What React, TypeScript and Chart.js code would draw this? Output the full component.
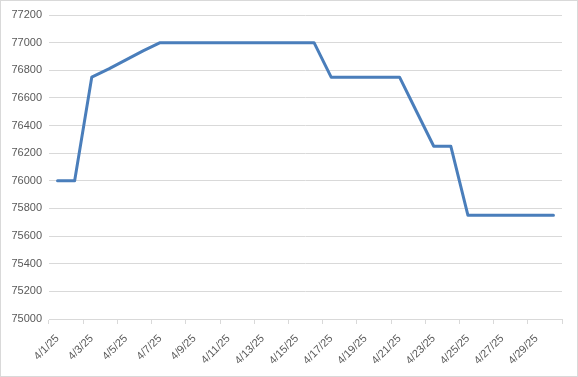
import React, { useEffect, useRef } from "react";
import { Chart, registerables } from "chart.js";

Chart.register(...registerables);

const dates: string[] = [
  "4/1/25", "4/2/25", "4/3/25", "4/4/25", "4/5/25", "4/6/25", "4/7/25", "4/8/25", "4/9/25", "4/10/25",
  "4/11/25", "4/12/25", "4/13/25", "4/14/25", "4/15/25", "4/16/25", "4/17/25", "4/18/25", "4/19/25", "4/20/25",
  "4/21/25", "4/22/25", "4/23/25", "4/24/25", "4/25/25", "4/26/25", "4/27/25", "4/28/25", "4/29/25", "4/30/25",
];

const values: number[] = [
  76000, 76000, 76750, 76810, 76875, 76940, 77000, 77000, 77000, 77000,
  77000, 77000, 77000, 77000, 77000, 77000, 76750, 76750, 76750, 76750,
  76750, 76500, 76250, 76250, 75750, 75750, 75750, 75750, 75750, 75750,
];

const yMin = 75000;
const yMax = 77200;
const yStep = 200;

const FONT = "'Liberation Sans', Arial, sans-serif";
const TEXT = "#595959";
const GRID = "#d9d9d9";

export default function App() {
  const ref = useRef<HTMLCanvasElement | null>(null);

  useEffect(() => {
    document.body.style.margin = "0";
    const ctx = ref.current;
    if (!ctx) return;
    const chart = new Chart(ctx, {
      type: "line",
      data: {
        labels: dates,
        datasets: [
          {
            data: values,
            borderColor: "#4a7ebb",
            borderWidth: 3,
            pointRadius: 0,
            tension: 0,
            borderJoinStyle: "round",
            borderCapStyle: "round",
            fill: false,
          },
        ],
      },
      options: {
        animation: false,
        responsive: false,
        maintainAspectRatio: false,
        plugins: { legend: { display: false }, tooltip: { enabled: false } },
        layout: { padding: { top: 14, right: 15, left: 0, bottom: 0 } },
        scales: {
          x: {
            offset: true,
            grid: {
              offset: true,
              drawOnChartArea: false,
              drawTicks: true,
              tickLength: 5,
              color: (c: any) =>
                c.index === undefined || c.index % 2 === 0 ? GRID : "rgba(0,0,0,0)",
            },
            border: { display: true, color: GRID, width: 1 },
            ticks: {
              autoSkip: false,
              maxRotation: 45,
              minRotation: 45,
              color: TEXT,
              font: { family: FONT, size: 11 },
              padding: 8,
              callback: (_v: any, i: number) => (i % 2 === 0 ? dates[i] : ""),
            },
            afterFit: (s: any) => {
              s.height = 57;
            },
          },
          y: {
            min: yMin,
            max: yMax,
            grid: { color: GRID, drawTicks: false, lineWidth: 1 },
            border: { display: false },
            ticks: {
              stepSize: yStep,
              color: TEXT,
              font: { family: FONT, size: 11 },
              padding: 7,
              callback: (v: any) => String(v),
            },
            afterFit: (s: any) => {
              s.width = 48;
            },
          },
        },
      },
    });
    return () => chart.destroy();
  }, []);

  return (
    <div
      style={{
        position: "absolute",
        left: 0,
        top: 0,
        width: 578,
        height: 377,
        border: "1px solid #d9d9d9",
        boxSizing: "border-box",
        background: "#fff",
      }}
    >
      <canvas ref={ref} width={576} height={375} style={{ display: "block" }} />
    </div>
  );
}
